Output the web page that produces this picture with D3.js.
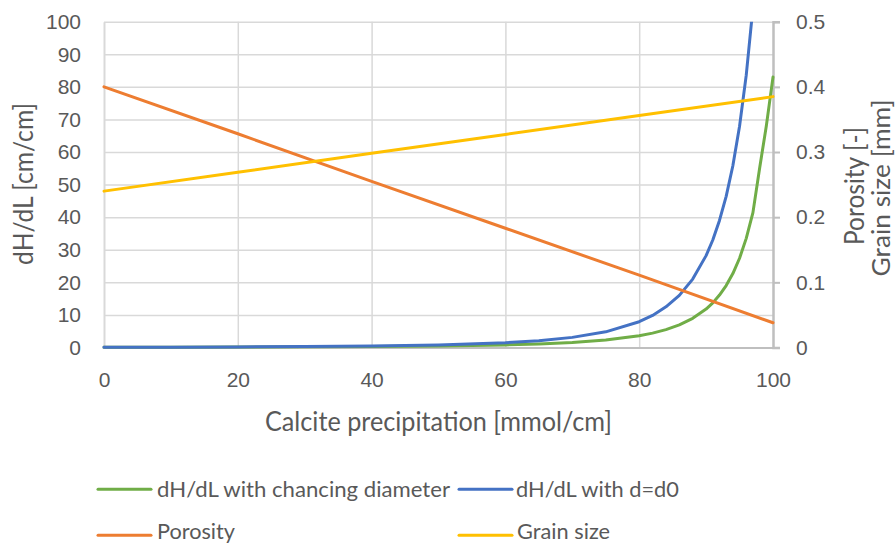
<!DOCTYPE html>
<html>
<head>
<meta charset="utf-8">
<script src="https://cdn.jsdelivr.net/npm/d3@7"></script>
<style>
  html, body { margin: 0; padding: 0; background: #ffffff; }
  svg { display: block; font-family: Lato, "Open Sans", "Noto Sans", sans-serif; }
</style>
</head>
<body>
<svg id="chart" width="896" height="544"></svg>
<script>
// Calcite precipitation [mmol/cm] at which the hydraulic gradients were evaluated
const precipitation = [0, 10, 20, 30, 40, 50, 60, 65, 70, 75, 80, 82, 84, 86, 88,
                       90, 91, 92, 93, 94, 95, 96, 97, 98, 99, 100];
// dH/dL [cm/cm] when the grain diameter grows with precipitation
const dhdlChangingDiameter = [0.08, 0.10, 0.14, 0.20, 0.29, 0.46, 0.79, 1.08, 1.54, 2.28,
                              3.60, 4.41, 5.48, 6.94, 8.95, 11.8, 13.7, 16.1, 19.0, 22.7,
                              27.4, 33.5, 41.4, 55.0, 68.0, 83.0];
// dH/dL [cm/cm] with a constant grain diameter d = d0 (leaves the axis range after 97)
const dhdlConstantDiameter = [0.08, 0.11, 0.17, 0.27, 0.45, 0.78, 1.47, 2.10, 3.11, 4.81,
                              7.91, 9.85, 12.5, 16.0, 21.0, 28.2, 33.0, 39.0, 46.4, 55.8,
                              67.9, 83.6, 104.3];
// Porosity [-] and grain size [mm] (secondary axis)
const linearX = [0, 20, 40, 60, 80, 100];
const porosity = [0.400, 0.328, 0.255, 0.183, 0.111, 0.038];
const grainSize = [0.240, 0.269, 0.298, 0.327, 0.356, 0.385];

// Axis ticks and labels
const xTicks = [0, 20, 40, 60, 80, 100];
const yTicks = [0, 10, 20, 30, 40, 50, 60, 70, 80, 90, 100];
const y2Ticks = [0, 0.1, 0.2, 0.3, 0.4, 0.5];
const y2Labels = ["0", "0.1", "0.2", "0.3", "0.4", "0.5"];

const seriesNames = ["dH/dL with chancing diameter", "dH/dL with d=d0", "Porosity", "Grain size"];
const seriesColors = ["#70ad47", "#4472c4", "#ed7d31", "#ffc000"];

const textColor = "#595959";
const gridColor = "#d9d9d9";
const axisColor = "#bfbfbf";

const plot = { left: 104, right: 773, top: 21.7, bottom: 347.5 };

const svg = d3.select("#chart");

const x = d3.scaleLinear().domain([0, 100]).range([plot.left, plot.right]);
const y = d3.scaleLinear().domain([0, 100]).range([plot.bottom, plot.top]);
const y2 = d3.scaleLinear().domain([0, 0.5]).range([plot.bottom, plot.top]);

// Gridlines
const grid = svg.append("g");
grid.append("g")
  .attr("transform", `translate(${plot.left},0)`)
  .call(d3.axisLeft(y).tickValues(yTicks).tickSize(-(plot.right - plot.left)).tickFormat(""))
  .call(g => g.select(".domain").remove())
  .call(g => g.selectAll("line").attr("stroke", gridColor).attr("stroke-width", 1.5));
grid.append("g")
  .attr("transform", `translate(0,${plot.bottom})`)
  .call(d3.axisBottom(x).tickValues(xTicks.slice(1, -1)).tickSize(-(plot.bottom - plot.top)).tickFormat(""))
  .call(g => g.select(".domain").remove())
  .call(g => g.selectAll("line").attr("stroke", gridColor).attr("stroke-width", 1.5));

// Left axis
svg.append("g")
  .attr("transform", `translate(${plot.left},0)`)
  .call(d3.axisLeft(y).tickValues(yTicks).tickSize(0).tickPadding(23))
  .call(g => g.select(".domain").attr("stroke", gridColor).attr("stroke-width", 2))
  .call(g => g.selectAll("text").attr("fill", textColor).attr("font-size", 21)
    .attr("font-family", null));

// Bottom axis
svg.append("g")
  .attr("transform", `translate(0,${plot.bottom})`)
  .call(d3.axisBottom(x).tickValues(xTicks).tickSize(0).tickPadding(25))
  .call(g => g.select(".domain").attr("stroke", axisColor).attr("stroke-width", 2))
  .call(g => g.selectAll("text").attr("fill", textColor).attr("font-size", 21)
    .attr("font-family", null));

// Right (secondary) axis
svg.append("g")
  .attr("transform", `translate(${plot.right},0)`)
  .call(d3.axisRight(y2).tickValues(y2Ticks).tickSize(7).tickPadding(16)
    .tickFormat((d, i) => y2Labels[i]))
  .call(g => g.select(".domain").attr("stroke", axisColor).attr("stroke-width", 2.5))
  .call(g => g.selectAll("line").attr("stroke", axisColor).attr("stroke-width", 2))
  .call(g => g.selectAll("text").attr("fill", textColor).attr("font-size", 21)
    .attr("font-family", null));

// Series, clipped to the plot area
svg.append("clipPath").attr("id", "plot-clip")
  .append("rect")
  .attr("x", plot.left - 2).attr("y", plot.top)
  .attr("width", plot.right - plot.left + 4).attr("height", plot.bottom - plot.top + 3);

const series = svg.append("g").attr("clip-path", "url(#plot-clip)");

const primaryLine = d3.line().x(d => x(d[0])).y(d => y(d[1]));
const secondaryLine = d3.line().x(d => x(d[0])).y(d => y2(d[1]));

const lines = [
  { data: d3.zip(precipitation, dhdlChangingDiameter), gen: primaryLine, color: seriesColors[0] },
  { data: d3.zip(precipitation, dhdlConstantDiameter), gen: primaryLine, color: seriesColors[1] },
  { data: d3.zip(linearX, porosity), gen: secondaryLine, color: seriesColors[2] },
  { data: d3.zip(linearX, grainSize), gen: secondaryLine, color: seriesColors[3] }
];

series.selectAll("path")
  .data(lines)
  .join("path")
  .attr("d", s => s.gen(s.data))
  .attr("fill", "none")
  .attr("stroke", s => s.color)
  .attr("stroke-width", 3)
  .attr("stroke-linejoin", "round")
  .attr("stroke-linecap", "round");

// Axis titles
function title(text, tx, ty, rot, length, size) {
  svg.append("text")
    .attr("transform", `translate(${tx},${ty}) rotate(${rot})`)
    .attr("text-anchor", "middle")
    .attr("fill", textColor)
    .attr("font-size", size)
    .attr("textLength", length)
    .attr("lengthAdjust", "spacingAndGlyphs")
    .text(text);
}
title("Calcite precipitation [mmol/cm]", 438.5, 431, 0, 347, 26);
title("dH/dL [cm/cm]", 33, 184, -90, 162, 26);
title("Porosity [-]", 864, 186, -90, 118, 26);
title("Grain size [mm]", 890, 188, -90, 177, 25);

// Legend
const legendItems = [
  { x: 98, y: 489.3, textX: 157, width: 293 },
  { x: 459, y: 489.3, textX: 516, width: 163 },
  { x: 98, y: 535.2, textX: 157, width: 78 },
  { x: 459, y: 535.2, textX: 517, width: 93 }
];
const legend = svg.append("g");
const entries = legend.selectAll("g")
  .data(seriesNames.map((name, i) => ({ name, color: seriesColors[i], ...legendItems[i] })))
  .join("g");
entries.append("line")
  .attr("x1", d => d.x).attr("x2", d => d.x + 53)
  .attr("y1", d => d.y).attr("y2", d => d.y)
  .attr("stroke", d => d.color)
  .attr("stroke-width", 3)
  .attr("stroke-linecap", "round");
entries.append("text")
  .attr("x", d => d.textX)
  .attr("y", d => Math.min(d.y + 7.5, 539))
  .attr("fill", textColor)
  .attr("font-size", 21)
  .attr("textLength", d => d.width)
  .attr("lengthAdjust", "spacingAndGlyphs")
  .text(d => d.name);
</script>
</body>
</html>
